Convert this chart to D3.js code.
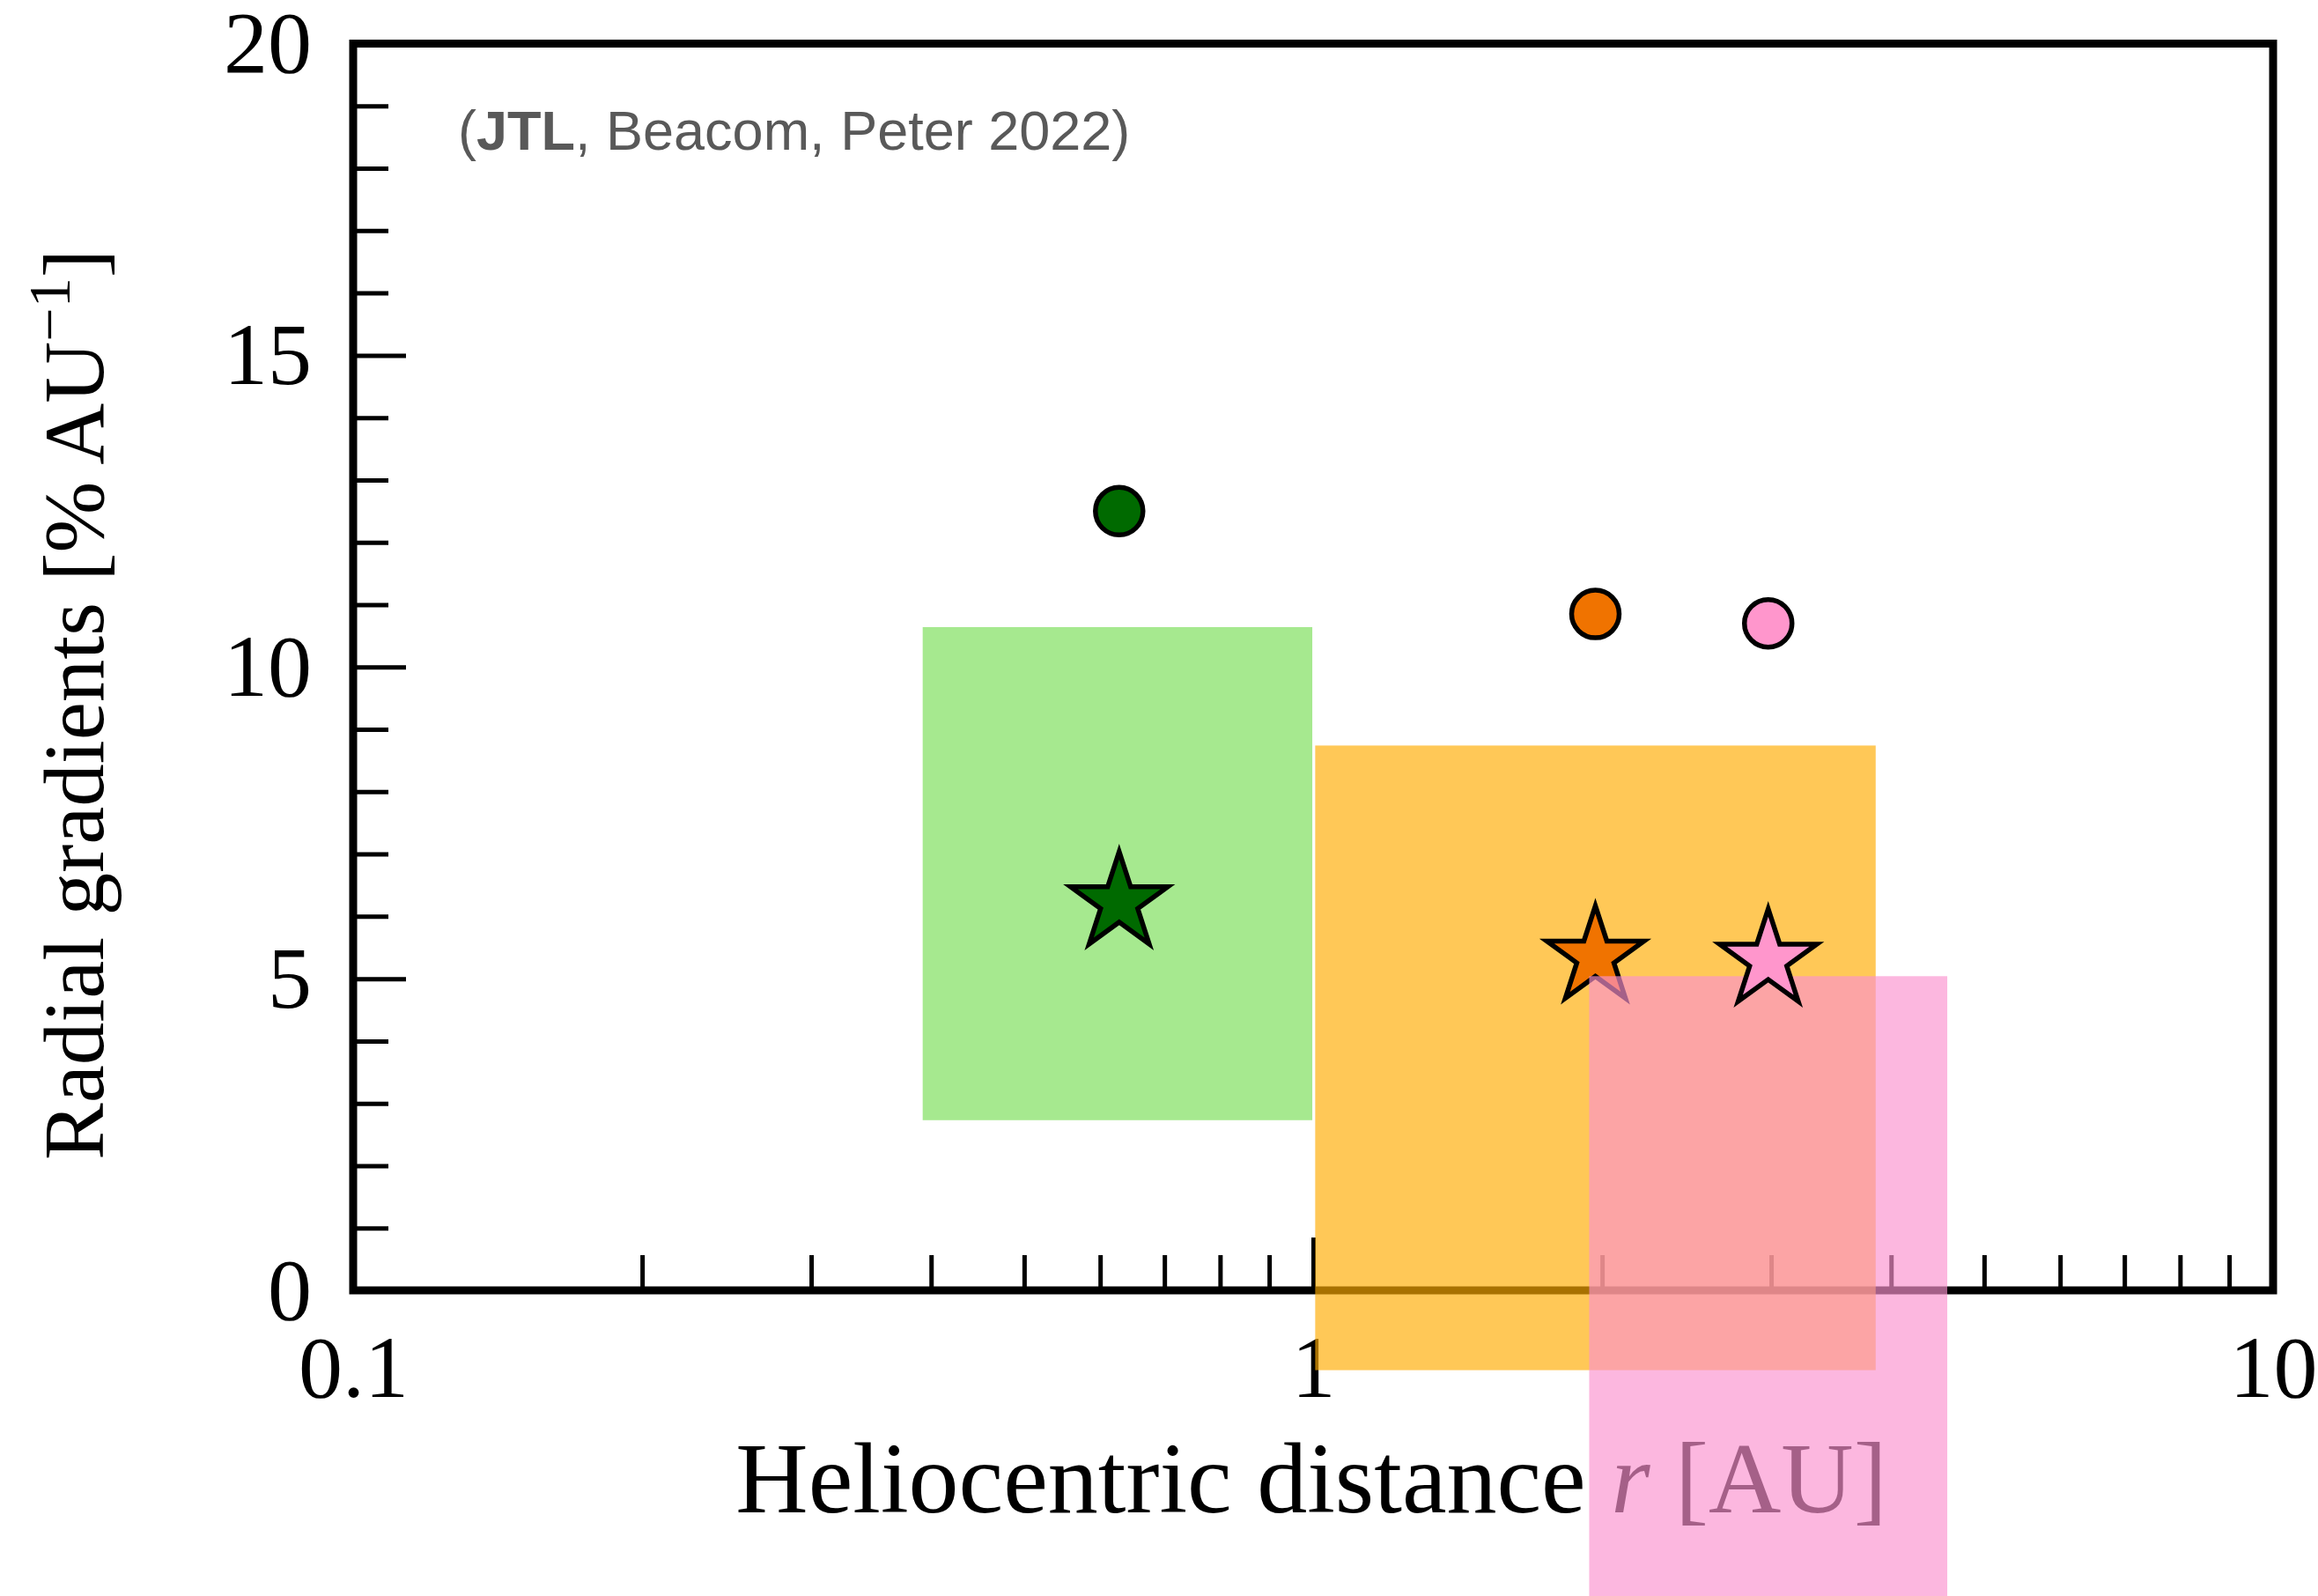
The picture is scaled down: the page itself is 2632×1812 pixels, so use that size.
<!DOCTYPE html>
<html>
<head>
<meta charset="utf-8">
<script src="https://cdn.jsdelivr.net/npm/d3@7"></script>
<style>
  html, body { margin: 0; padding: 0; background: #fff; }
  svg { display: block; }
</style>
</head>
<body>
<div id="chart"></div>
<script>
// data
var groups = ["green", "orange", "pink"];
// shaded boxes: heliocentric range [AU] and gradient range [% / AU]
var boxRMin = [0.392, 1.005, 1.939];
var boxRMax = [0.998, 3.855, 4.577];
var boxGMin = [2.73, -1.28, -6.5];
var boxGMax = [10.64, 8.74, 5.04];
// markers
var markerR = [0.628, 1.968, 2.979];
var circleG = [12.50, 10.85, 10.70];
var starG = [6.22, 5.35, 5.30];

var boxColors = ["rgb(120,221,85)", "rgb(255,172,0)", "rgb(251,145,206)"];
var markerColors = ["#006a00", "#f07300", "#ff96cc"];

var xMajor = [0.1, 1, 10];
var xMajorLabels = ["0.1", "1", "10"];
var xMinor = [0.2, 0.3, 0.4, 0.5, 0.6, 0.7, 0.8, 0.9, 2, 3, 4, 5, 6, 7, 8, 9];
var yMajor = [0, 5, 10, 15, 20];
var yMinor = [1, 2, 3, 4, 6, 7, 8, 9, 11, 12, 13, 14, 16, 17, 18, 19];

var width = 2632, height = 1812;
var margin = {top: 49.5, right: 51, bottom: 347, left: 401};

var svg = d3.select("#chart").append("svg")
    .attr("width", width)
    .attr("height", height);

var x = d3.scaleLog()
    .domain([0.1, 10])
    .range([margin.left, width - margin.right]);

var y = d3.scaleLinear()
    .domain([0, 20])
    .range([height - margin.bottom, margin.top]);

var serif = "'Liberation Serif', 'Times New Roman', serif";

// ---- axes (drawn first, boxes sit on top) ----
var xMinorAxis = svg.append("g")
    .attr("transform", "translate(0," + y(0) + ")")
    .call(d3.axisBottom(x).tickValues(xMinor).tickSize(-40).tickFormat(""));

var xMajorAxis = svg.append("g")
    .attr("transform", "translate(0," + y(0) + ")")
    .call(d3.axisBottom(x).tickValues(xMajor).tickSize(-60).tickPadding(50)
        .tickFormat(function (d, i) { return xMajorLabels[i]; }));

var yMinorAxis = svg.append("g")
    .attr("transform", "translate(" + x(0.1) + ",0)")
    .call(d3.axisLeft(y).tickValues(yMinor).tickSize(-40).tickFormat(""));

var yMajorAxis = svg.append("g")
    .attr("transform", "translate(" + x(0.1) + ",0)")
    .call(d3.axisLeft(y).tickValues(yMajor).tickSize(-60).tickPadding(47)
        .tickFormat(d3.format("d")));

[xMinorAxis, xMajorAxis, yMinorAxis, yMajorAxis].forEach(function (g) {
    g.select(".domain").remove();
    g.selectAll(".tick line").attr("stroke", "#000").attr("stroke-width", 5);
    g.selectAll(".tick text")
        .attr("fill", "#000")
        .style("font-family", serif)
        .style("font-size", "100px");
});

// frame
svg.append("rect")
    .attr("x", x(0.1))
    .attr("y", y(20))
    .attr("width", x(10) - x(0.1))
    .attr("height", y(0) - y(20))
    .attr("fill", "none")
    .attr("stroke", "#000")
    .attr("stroke-width", 9);

// axis labels
var xLabel = svg.append("text")
    .attr("x", (x(0.1) + x(10)) / 2 - 2)
    .attr("y", 1717)
    .attr("text-anchor", "middle")
    .style("font-family", serif)
    .style("font-size", "114px")
    .attr("fill", "#000");
xLabel.append("tspan").text("Heliocentric distance ");
xLabel.append("tspan").style("font-style", "italic").text("r");
xLabel.append("tspan").text(" [AU]");

var yLabel = svg.append("text")
    .attr("transform", "translate(117,800) rotate(-90)")
    .attr("text-anchor", "middle")
    .style("font-family", serif)
    .style("font-size", "97px")
    .attr("fill", "#000");
yLabel.append("tspan").text("Radial gradients [% AU");
yLabel.append("tspan").attr("dy", -38).style("font-size", "68px").text("\u22121");
yLabel.append("tspan").attr("dy", 38).text("]");

// citation
var cite = svg.append("text")
    .attr("x", 520)
    .attr("y", 170)
    .style("font-family", "'Liberation Sans', Arial, sans-serif")
    .style("font-size", "63px")
    .attr("fill", "#595959");
cite.append("tspan").text("(");
cite.append("tspan").style("font-weight", "bold").text("JTL");
cite.append("tspan").text(", Beacom, Peter 2022)");

// five-point star path, outer radius R
function starPath(R) {
    var pts = [];
    var r = R * 0.381966;
    for (var k = 0; k < 10; k++) {
        var a = -Math.PI / 2 + k * Math.PI / 5;
        var rad = (k % 2 === 0) ? R : r;
        pts.push([rad * Math.cos(a), rad * Math.sin(a)]);
    }
    return d3.line()(pts) + "Z";
}

// ---- boxes and markers, one group at a time ----
groups.forEach(function (g, i) {
    svg.append("rect")
        .attr("x", x(boxRMin[i]))
        .attr("y", y(boxGMax[i]))
        .attr("width", x(boxRMax[i]) - x(boxRMin[i]))
        .attr("height", y(boxGMin[i]) - y(boxGMax[i]))
        .attr("fill", boxColors[i])
        .attr("fill-opacity", 0.66);

    svg.append("circle")
        .attr("cx", x(markerR[i]))
        .attr("cy", y(circleG[i]))
        .attr("r", 27)
        .attr("fill", markerColors[i])
        .attr("stroke", "#000")
        .attr("stroke-width", 5.5);

    svg.append("path")
        .attr("transform", "translate(" + x(markerR[i]) + "," + y(starG[i]) + ")")
        .attr("d", starPath(58))
        .attr("fill", markerColors[i])
        .attr("stroke", "#000")
        .attr("stroke-width", 5.5)
        .attr("stroke-linejoin", "miter")
        .attr("stroke-miterlimit", 10);
});
</script>
</body>
</html>
